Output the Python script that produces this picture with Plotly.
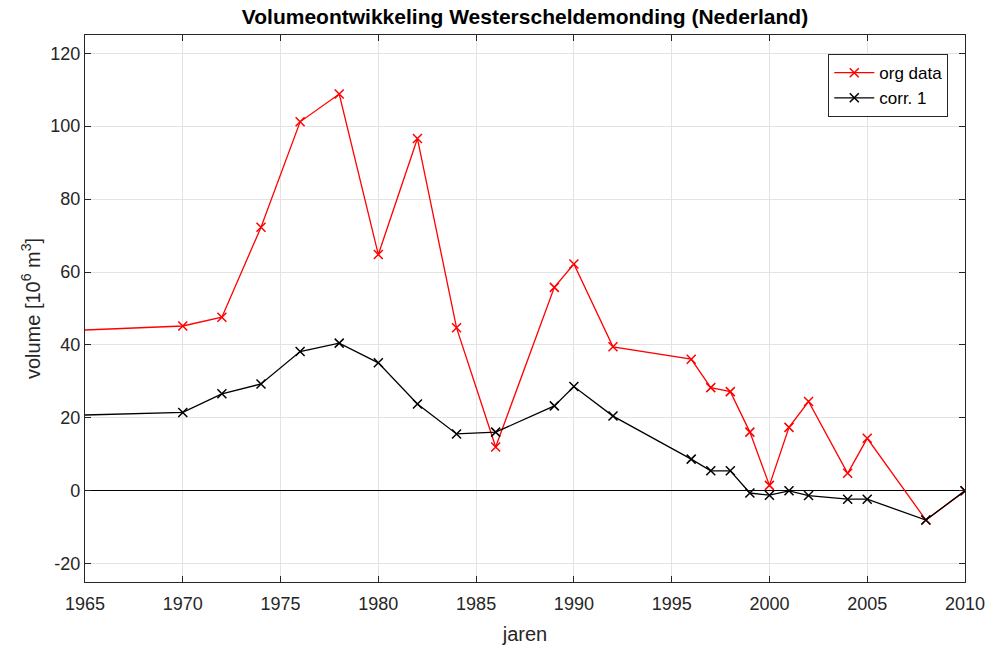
import plotly.graph_objects as go

years_org = [1960, 1970, 1972, 1974, 1976, 1978, 1980, 1982, 1984, 1986, 1989, 1990, 1992,
             1996, 1997, 1998, 1999, 2000, 2001, 2002, 2004, 2005, 2008, 2010]
org_data = [43.0, 45.2, 47.6, 72.3, 101.2, 108.8, 64.8, 96.6, 44.7, 12.0, 55.8, 62.2, 39.5,
            36.1, 28.3, 27.2, 16.1, 1.5, 17.4, 24.5, 4.8, 14.4, -8.0, 0.0]

years_corr = [1960, 1970, 1972, 1974, 1976, 1978, 1980, 1982, 1984, 1986, 1989, 1990, 1992,
              1996, 1997, 1998, 1999, 2000, 2001, 2002, 2004, 2005, 2008, 2010]
corr1 = [20.1, 21.5, 26.6, 29.3, 38.2, 40.5, 35.1, 23.8, 15.6, 16.1, 23.3, 28.6, 20.5,
         8.7, 5.5, 5.5, -0.6, -1.2, 0.0, -1.3, -2.3, -2.3, -8.0, 0.0]

x_ticks = [1965, 1970, 1975, 1980, 1985, 1990, 1995, 2000, 2005, 2010]
y_ticks = [-20, 0, 20, 40, 60, 80, 100, 120]

FONT = "Liberation Sans, Arial, sans-serif"

fig = go.Figure()
fig.add_trace(go.Scatter(
    x=years_org, y=org_data, mode="lines+markers", name="org data",
    line=dict(color="#ff0000", width=1.3),
    marker=dict(symbol="x-thin", size=9, line=dict(color="#ff0000", width=1.5)),
))
fig.add_trace(go.Scatter(
    x=years_corr, y=corr1, mode="lines+markers", name="corr. 1",
    line=dict(color="#000000", width=1.3),
    marker=dict(symbol="x-thin", size=9, line=dict(color="#000000", width=1.5)),
))

axis_common = dict(
    showline=True, linecolor="#262626", linewidth=1.2, mirror="ticks",
    ticks="inside", ticklen=6, tickcolor="#262626",
    showgrid=True, gridcolor="#e3e3e3", gridwidth=1,
    automargin=False,
)

fig.update_xaxes(
    range=[1965, 2010], tickvals=x_ticks, ticktext=[str(v) for v in x_ticks],
    zeroline=False, ticklabelstandoff=5,
    tickfont=dict(family=FONT, size=18, color="#262626"),
    title=dict(text="jaren", font=dict(family=FONT, size=20, color="#262626"), standoff=14),
    **axis_common,
)
fig.update_yaxes(
    range=[-25, 125], tickvals=y_ticks, ticktext=[str(v) for v in y_ticks],
    zeroline=True, zerolinecolor="#000000", zerolinewidth=1.3,
    tickfont=dict(family=FONT, size=18, color="#262626"),
    title=dict(text="volume [10<sup>6</sup> m<sup>3</sup>]", font=dict(family=FONT, size=20, color="#262626"), standoff=4),
    **axis_common,
)

fig.update_layout(
    width=991, height=645,
    margin=dict(l=85, r=26, t=35, b=63, autoexpand=False),
    paper_bgcolor="white", plot_bgcolor="white",
    title=dict(
        text="<b>Volumeontwikkeling Westerscheldemonding (Nederland)</b>",
        x=(85 + 965) / 2 / 991, xanchor="center", y=1 - 17 / 645, yanchor="middle",
        font=dict(family=FONT, size=21, color="#000000"),
    ),
    legend=dict(
        x=0.981, y=0.965, xanchor="right", yanchor="top",
        bgcolor="white", bordercolor="#262626", borderwidth=1,
        font=dict(family=FONT, size=17, color="#000000"),
        tracegroupgap=0, itemwidth=40,
    ),
    showlegend=True,
)

fig.write_html("out.html", config={"displayModeBar": False},
               post_script="document.body.style.margin='0px';")
